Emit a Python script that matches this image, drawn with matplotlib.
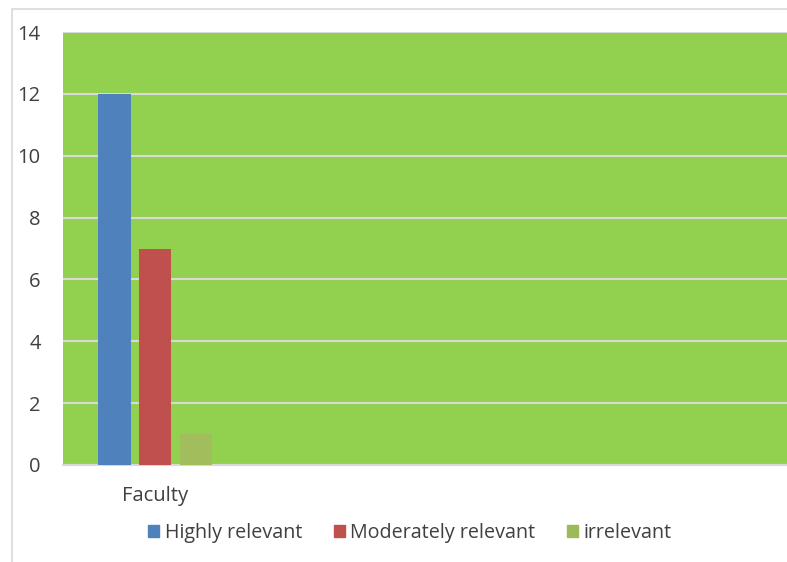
import matplotlib.pyplot as plt
import matplotlib.patches as mpatches
import numpy as np

# Data
categories = ['Faculty']
series_names = ['Highly relevant', 'Moderately relevant', 'irrelevant']
values = [12, 7, 1]
colors = ['#4F81BD', '#C0504D', '#9BBB59']
yticks = [0, 2, 4, 6, 8, 10, 12, 14]

plt.rcParams['font.family'] = ['Open Sans', 'DejaVu Sans']

fig = plt.figure(figsize=(7.87, 5.62), dpi=100)
ax = fig.add_axes([63/787, 1 - 465/562, 1 - 63/787, (465 - 32)/562])

# outer chart border
fig.patches.append(mpatches.Rectangle((12/787, -0.01), 1.0, 1 - 9/562 + 0.01,
                                      transform=fig.transFigure, fill=False,
                                      edgecolor='#D9D9D9', linewidth=1.2))

ax.set_facecolor('#92D050')
x = np.arange(len(categories))
width = 0.179
offsets = [-0.22, 0.0, 0.223]
handles = []
for i, (name, v, c) in enumerate(zip(series_names, values, colors)):
    face = c if i < 2 else '#A2BD5B'
    ax.bar(x + offsets[i], [v], width=width, color=face, zorder=3)
    handles.append(mpatches.Patch(color=c, label=name))

ax.set_xlim(-0.5, 3.435)
ax.set_ylim(0, 14)
ax.set_yticks(yticks)
ax.set_yticklabels([str(t) for t in yticks], fontsize=14.5, color='#404040')
ax.set_xticks(x)
ax.set_xticklabels(categories, fontsize=14.5, color='#404040')
ax.tick_params(axis='y', length=0, pad=16)
ax.tick_params(axis='x', length=0, pad=15)
ax.grid(axis='y', color='#D9D9D9', linewidth=1.5, zorder=1)
ax.set_axisbelow(True)
for s in ['left', 'right', 'top']:
    ax.spines[s].set_visible(False)
ax.spines['bottom'].set_color('#D9D9D9')
ax.spines['bottom'].set_linewidth(1.5)

fig.legend(handles=handles, loc='center', bbox_to_anchor=(410/787, 1 - 533/562),
           ncol=3, frameon=False, fontsize=14.2, handlelength=0.55, handleheight=0.55,
           handletextpad=0.3, columnspacing=1.6, labelcolor='#404040')

fig.savefig('out.png', dpi=100)
